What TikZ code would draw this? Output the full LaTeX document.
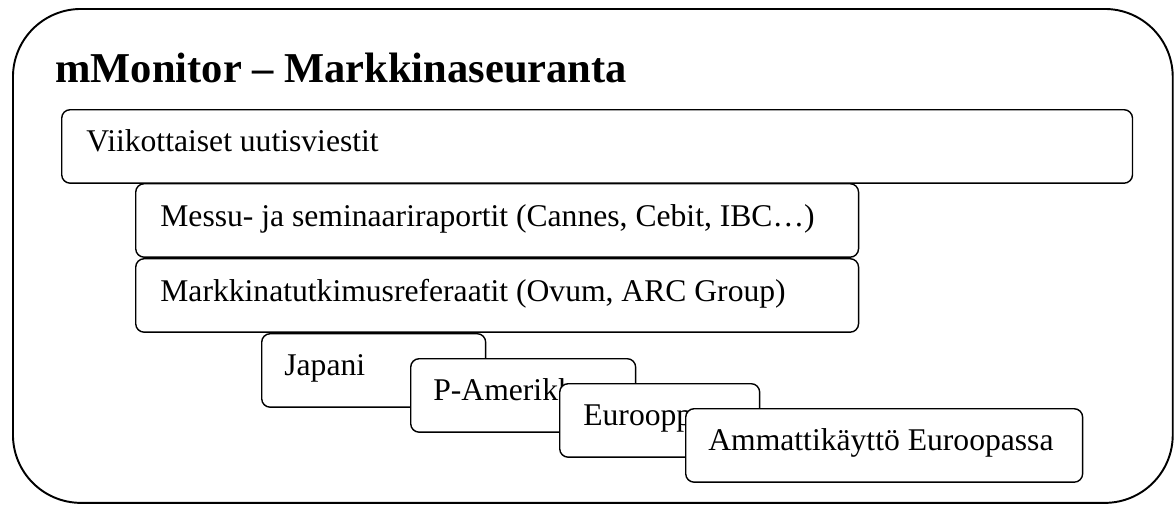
\documentclass[tikz,border=0pt]{standalone}
\usepackage{fontspec}
\setmainfont{Liberation Serif}
\usepackage{xcolor}
\usepackage{tikz}
\tikzset{
  frame/.style={draw, line width=1.1pt, rounded corners=1.36cm, anchor=north west},
  box/.style={draw, fill=white, line width=0.8pt, rounded corners=0.17cm, anchor=north west, minimum height=1.47cm},
  boxtext/.style={anchor=base west, inner sep=0pt, font=\fontsize{18}{21}\selectfont},
  titletext/.style={anchor=base west, inner sep=0pt, font=\bfseries\fontsize{24.2}{28}\selectfont}
}

\begin{document}
\begin{tikzpicture}[x=0.02cm, y=-0.02cm]%
\useasboundingbox (0,0) rectangle (1175,504);%
\node[frame, minimum width=23.2cm, minimum height=9.88cm] (frame) at (12,8) {};%
\node[titletext] (title) at (55,82) {mMonitor – Markkinaseuranta};%
% rows
\node[box, minimum width=21.42cm] (viikko) at (61,109) {};%
\node[boxtext] (viikkoText) at ([shift={(25,42)}]viikko.north west) {Viikottaiset uutisviestit};%
\node[box, minimum width=14.46cm] (messu) at (135,183) {};%
\node[boxtext] (messuText) at ([shift={(25,43)}]messu.north west) {Messu- ja seminaariraportit (Cannes, Cebit, IBC…)};%
\node[box, minimum width=14.46cm] (tutkimus) at (135,258) {};%
\node[boxtext] (tutkimusText) at ([shift={(25,43)}]tutkimus.north west) {Markkinatutkimusreferaatit (Ovum, ARC Group)};%
% regions
\node[box, minimum width=4.48cm] (japani) at (261,333) {};%
\node[boxtext] (japaniText) at ([shift={(23,42)}]japani.north west) {Japani};%
\node[box, minimum width=4.5cm] (amerikka) at (410,358) {};%
\node[boxtext] (amerikkaText) at ([shift={(23,42)}]amerikka.north west) {P-Amerikka};%
\node[box, minimum width=4.0cm] (eurooppa) at (559,383) {};%
\node[boxtext] (eurooppaText) at ([shift={(24,42)}]eurooppa.north west) {Eurooppa};%
\node[box, minimum width=7.94cm] (ammatti) at (685,408) {};%
\node[boxtext] (ammattiText) at ([shift={(23,42)}]ammatti.north west) {Ammattikäyttö Euroopassa};%
\end{tikzpicture}
\end{document}
